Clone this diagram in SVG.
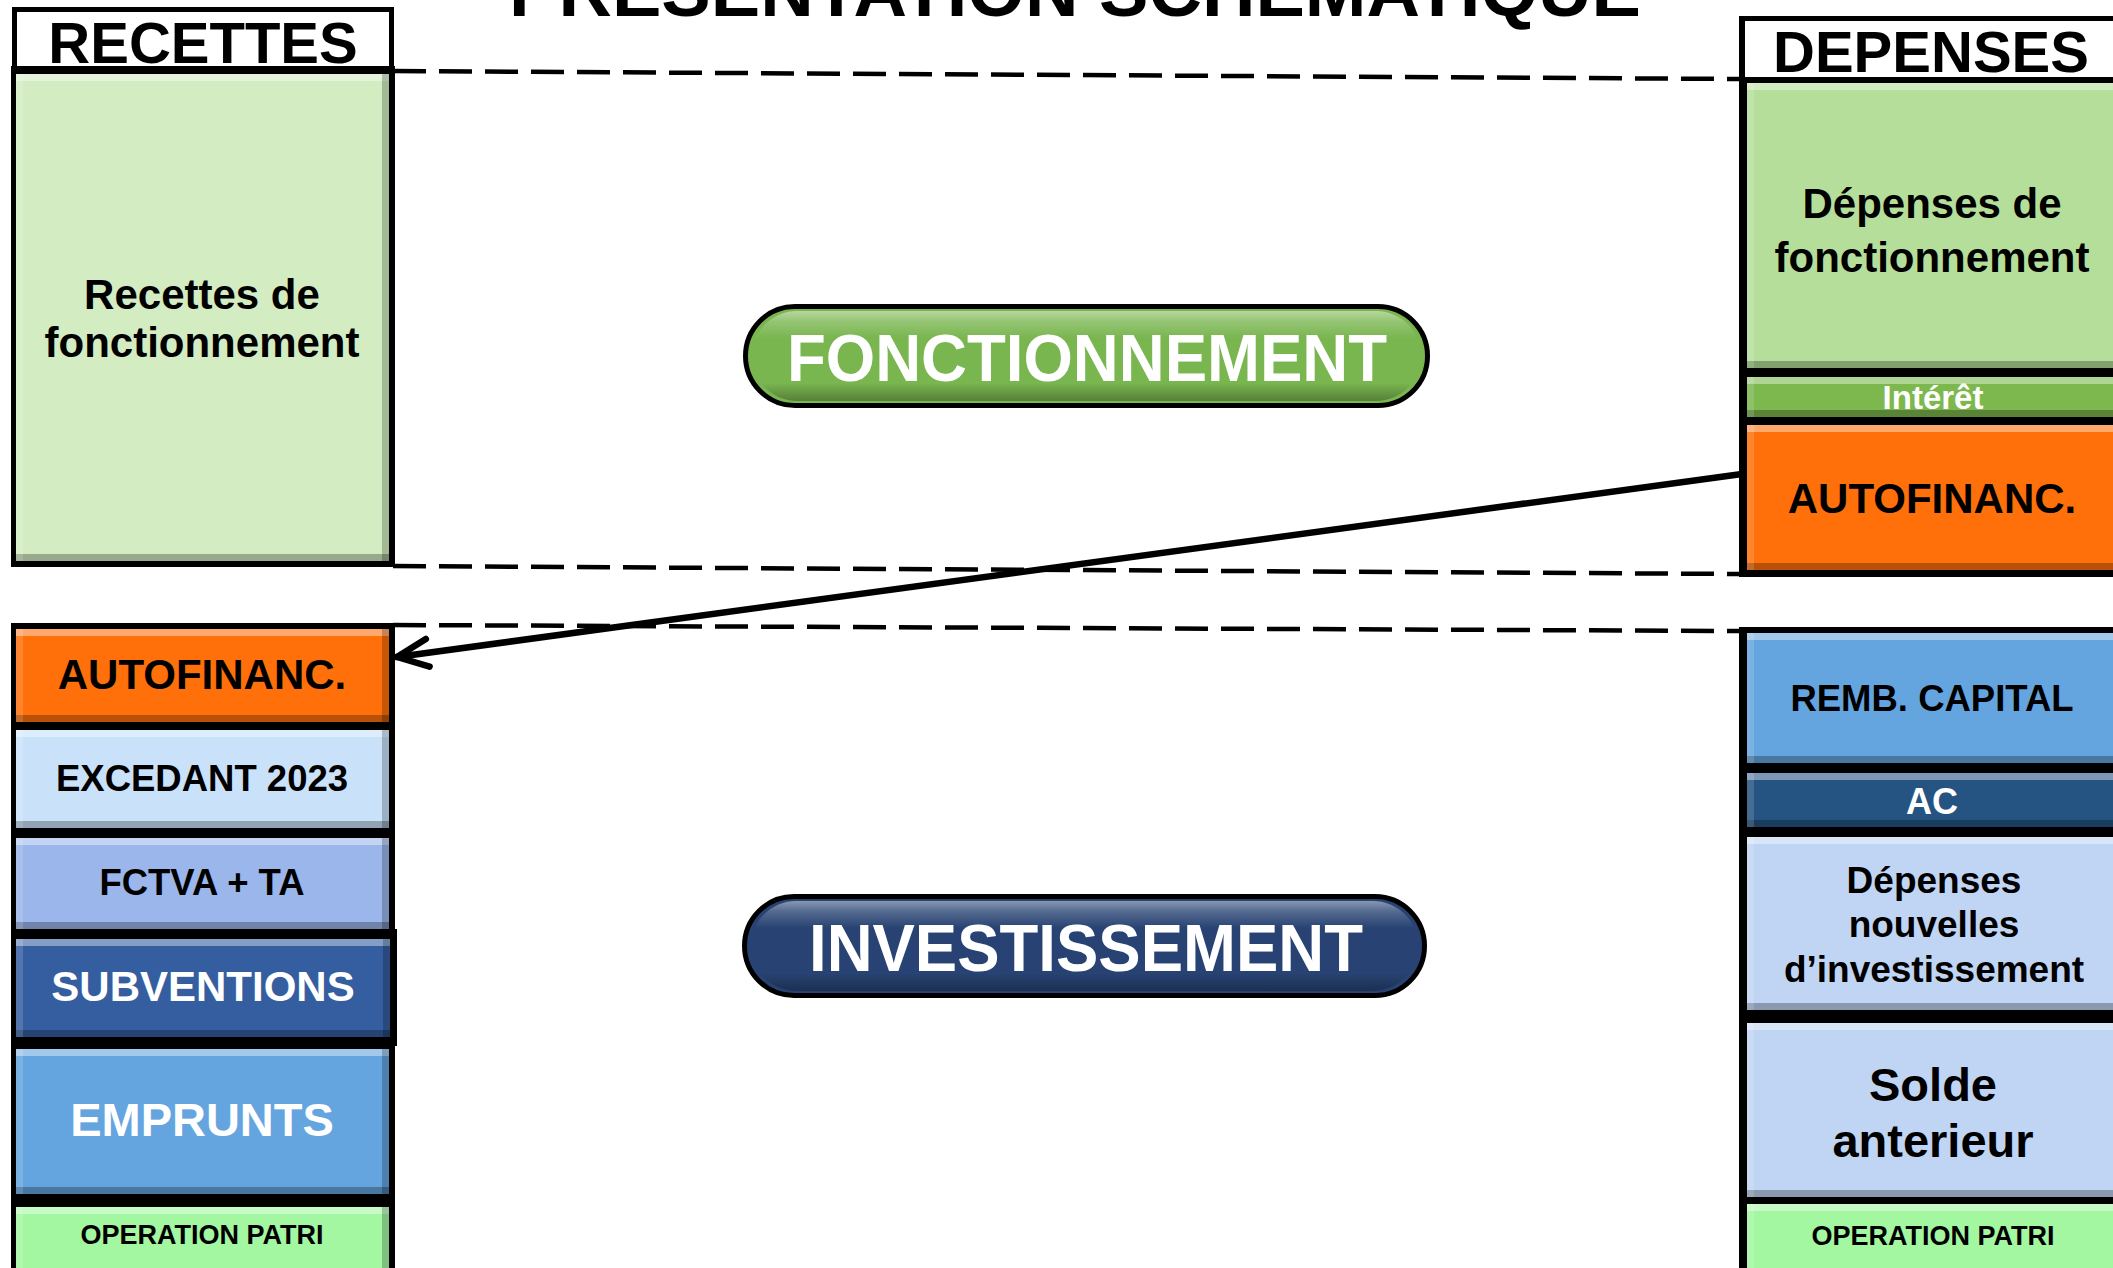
<svg xmlns="http://www.w3.org/2000/svg" width="2113" height="1268" viewBox="0 0 2113 1268">
<style>
text { font-family: "Liberation Sans", Arial, Helvetica, sans-serif; font-weight: bold; text-anchor: middle; }
.k { fill: #000; }
.w { fill: #fff; }
.bk { fill: #000; }
.bev { filter: url(#bev); }
.dash { stroke: #000; stroke-width: 4.5; stroke-dasharray: 33 13; fill: none; }
.arrow { stroke: #000; stroke-width: 6.5; fill: none; stroke-linecap: round; }
.pill { stroke: #000; stroke-width: 5; }
</style>
<defs>
<filter id="bev" x="-5%" y="-5%" width="110%" height="110%" color-interpolation-filters="sRGB">
<feOffset in="SourceAlpha" dy="7" result="dn"/>
<feComposite in="SourceAlpha" in2="dn" operator="out" result="topS"/>
<feFlood flood-color="#fff" flood-opacity="0.4"/>
<feComposite in2="topS" operator="in" result="topH"/>
<feOffset in="SourceAlpha" dy="-7" result="up"/>
<feComposite in="SourceAlpha" in2="up" operator="out" result="botS"/>
<feFlood flood-color="#000" flood-opacity="0.28"/>
<feComposite in2="botS" operator="in" result="botH"/>
<feOffset in="SourceAlpha" dx="-7" result="lf"/>
<feComposite in="SourceAlpha" in2="lf" operator="out" result="rS"/>
<feFlood flood-color="#000" flood-opacity="0.22"/>
<feComposite in2="rS" operator="in" result="rH"/>
<feOffset in="SourceAlpha" dx="7" result="rt"/>
<feComposite in="SourceAlpha" in2="rt" operator="out" result="lS"/>
<feFlood flood-color="#fff" flood-opacity="0.15"/>
<feComposite in2="lS" operator="in" result="lH"/>
<feMerge><feMergeNode in="SourceGraphic"/><feMergeNode in="topH"/><feMergeNode in="botH"/><feMergeNode in="rH"/><feMergeNode in="lH"/></feMerge>
</filter>
<linearGradient id="gloss" x1="0" y1="0" x2="0" y2="1">
<stop offset="0" stop-color="#fff" stop-opacity="0.45"/>
<stop offset="0.12" stop-color="#fff" stop-opacity="0.2"/>
<stop offset="0.3" stop-color="#fff" stop-opacity="0"/>
<stop offset="0.8" stop-color="#000" stop-opacity="0"/>
<stop offset="1" stop-color="#000" stop-opacity="0.3"/>
</linearGradient>
<marker id="head" markerUnits="userSpaceOnUse" viewBox="0 0 46 44" markerWidth="46" markerHeight="44" refX="39" refY="22" orient="auto">
<path d="M 8 8 L 39 22 L 8 36" fill="none" stroke="#000" stroke-width="6.5" stroke-linecap="round" stroke-linejoin="round"/>
</marker>
</defs>

<rect x="0" y="0" width="2113" height="1268" fill="#fff"/>

<g id="title">
<text x="1075" y="16" class="k" font-size="73" textLength="1132" lengthAdjust="spacingAndGlyphs">PRESENTATION SCHEMATIQUE</text>
</g>

<g id="connectors">
<line class="dash" x1="393" y1="71" x2="1739" y2="79"/>
<line class="dash" x1="393" y1="566" x2="1739" y2="574"/>
<line class="dash" x1="393" y1="625" x2="1739" y2="631"/>
<line class="arrow" x1="1742" y1="474" x2="397" y2="657" marker-end="url(#head)"/>
</g>

<!-- RECETTES column -->
<g id="recettes-header">
<rect class="bk" x="12" y="7" width="382" height="64"/>
<rect x="17" y="12" width="372" height="54" fill="#fff"/>
<text x="203" y="63" class="k" font-size="58">RECETTES</text>
</g>
<g id="recettes-fonctionnement">
<rect class="bk" x="11" y="66" width="384" height="501"/>
<rect class="bev" x="16" y="74" width="373" height="487" fill="#d3ecc1"/>
<text x="202" y="309" class="k" font-size="42">Recettes de</text>
<text x="202" y="357" class="k" font-size="42">fonctionnement</text>
</g>
<g id="recettes-autofinanc">
<rect class="bk" x="11" y="623" width="384" height="106"/>
<rect class="bev" x="16" y="629" width="373" height="93" fill="#ff6f0a"/>
<text x="202" y="689" class="k" font-size="42">AUTOFINANC.</text>
</g>
<g id="excedant">
<rect class="bk" x="11" y="722" width="384" height="114"/>
<rect class="bev" x="16" y="730" width="373" height="98" fill="#c9e2fa"/>
<text x="202" y="791" class="k" font-size="36.5">EXCEDANT 2023</text>
</g>
<g id="fctva">
<rect class="bk" x="11" y="828" width="384" height="109"/>
<rect class="bev" x="16" y="838" width="373" height="91" fill="#9bb6ea"/>
<text x="202" y="895" class="k" font-size="36.5">FCTVA + TA</text>
</g>
<g id="subventions">
<rect class="bk" x="11" y="929" width="386" height="117"/>
<rect class="bev" x="16" y="939" width="374" height="98" fill="#355ea0"/>
<text x="203" y="1001" class="w" font-size="42">SUBVENTIONS</text>
</g>
<g id="emprunts">
<rect class="bk" x="11" y="1037" width="384" height="167"/>
<rect class="bev" x="16" y="1049" width="373" height="145" fill="#64a5e0"/>
<text x="202" y="1136" class="w" font-size="47">EMPRUNTS</text>
</g>
<g id="recettes-operation-patri">
<rect class="bk" x="11" y="1194" width="384" height="82"/>
<rect class="bev" x="16" y="1207" width="373" height="80" fill="#a2f7a0"/>
<text x="202" y="1244" class="k" font-size="27">OPERATION PATRI</text>
</g>

<!-- DEPENSES column -->
<g id="depenses-header">
<rect class="bk" x="1739" y="16" width="390" height="66"/>
<rect x="1745" y="21" width="384" height="56" fill="#fff"/>
<text x="1931" y="72" class="k" font-size="58">DEPENSES</text>
</g>
<g id="depenses-fonctionnement">
<rect class="bk" x="1739" y="77" width="390" height="298"/>
<rect class="bev" x="1747" y="83" width="378" height="285" fill="#b4de99"/>
<text x="1932" y="218" class="k" font-size="42">Dépenses de</text>
<text x="1932" y="272" class="k" font-size="42">fonctionnement</text>
</g>
<g id="interet">
<rect class="bk" x="1739" y="368" width="390" height="57"/>
<rect class="bev" x="1747" y="377" width="378" height="40" fill="#7cb84e"/>
<text x="1933" y="409" class="w" font-size="33">Intérêt</text>
</g>
<g id="depenses-autofinanc">
<rect class="bk" x="1739" y="417" width="390" height="160"/>
<rect class="bev" x="1747" y="425" width="378" height="145" fill="#ff6f0a"/>
<text x="1932" y="513" class="k" font-size="42">AUTOFINANC.</text>
</g>
<g id="remb-capital">
<rect class="bk" x="1739" y="627" width="390" height="146"/>
<rect class="bev" x="1747" y="633" width="378" height="130" fill="#64a5e0"/>
<text x="1932" y="711" class="k" font-size="36.5">REMB. CAPITAL</text>
</g>
<g id="ac">
<rect class="bk" x="1739" y="763" width="390" height="74"/>
<rect class="bev" x="1747" y="773" width="378" height="54" fill="#255482"/>
<text x="1932" y="814" class="w" font-size="36">AC</text>
</g>
<g id="depenses-nouvelles">
<rect class="bk" x="1739" y="827" width="390" height="190"/>
<rect class="bev" x="1747" y="837" width="378" height="173" fill="#c0d5f3"/>
<text x="1934" y="893" class="k" font-size="37">Dépenses</text>
<text x="1934" y="937" class="k" font-size="37">nouvelles</text>
<text x="1934" y="982" class="k" font-size="37">d’investissement</text>
</g>
<g id="solde-anterieur">
<rect class="bk" x="1739" y="1010" width="390" height="194"/>
<rect class="bev" x="1747" y="1023" width="378" height="174" fill="#c0d5f3"/>
<text x="1933" y="1101" class="k" font-size="47">Solde</text>
<text x="1933" y="1157" class="k" font-size="47">anterieur</text>
</g>
<g id="depenses-operation-patri">
<rect class="bk" x="1739" y="1197" width="390" height="80"/>
<rect class="bev" x="1747" y="1204" width="378" height="80" fill="#a2f7a0"/>
<text x="1933" y="1245" class="k" font-size="27">OPERATION PATRI</text>
</g>

<!-- section pills -->
<g id="fonctionnement">
<rect class="pill" x="745.5" y="306.5" width="682" height="99" rx="49.5" fill="#7ab650"/>
<rect x="752" y="311" width="669" height="90" rx="45" fill="url(#gloss)"/>
<text x="1087" y="381" class="w" font-size="66" textLength="600" lengthAdjust="spacingAndGlyphs">FONCTIONNEMENT</text>
</g>
<g id="investissement">
<rect class="pill" x="744.5" y="896.5" width="680" height="99" rx="49.5" fill="#284373"/>
<rect x="751" y="901" width="667" height="90" rx="45" fill="url(#gloss)"/>
<text x="1086" y="971" class="w" font-size="66" textLength="554" lengthAdjust="spacingAndGlyphs">INVESTISSEMENT</text>
</g>
</svg>
